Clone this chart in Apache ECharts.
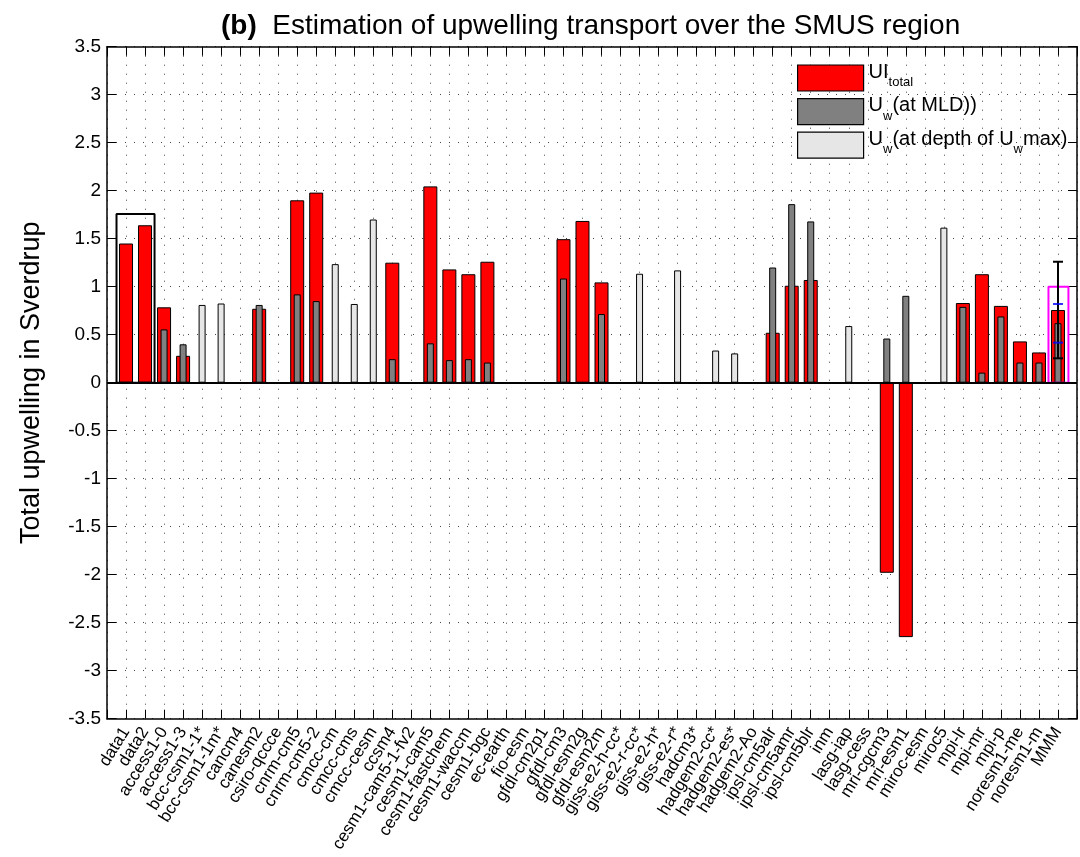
<!DOCTYPE html>
<html><head><meta charset="utf-8">
<script src="https://cdn.jsdelivr.net/npm/echarts@6/dist/echarts.min.js"></script>
<style>html,body{margin:0;padding:0;background:#fff}#c{width:1080px;height:857px}</style>
</head><body><div id="c"></div>
<script>
const categories = ['data1','data2','access1-0','access1-3','bcc-csm1-1*','bcc-csm1-1m*','cancm4','canesm2','csiro-qccce','cnrm-cm5','cnrm-cm5-2','cmcc-cm','cmcc-cms','cmcc-cesm','ccsm4','cesm1-cam5-1-fv2','cesm1-cam5','cesm1-fastchem','cesm1-waccm','cesm1-bgc','ec-earth','fio-esm','gfdl-cm2p1','gfdl-cm3','gfdl-esm2g','gfdl-esm2m','giss-e2-h-cc*','giss-e2-r-cc*','giss-e2-h*','giss-e2-r*','hadcm3*','hadgem2-cc*','hadgem2-es*','hadgem2-Ao','ipsl-cm5alr','ipsl-cm5amr','ipsl-cm5blr','inm','lasg-iap','lasg-cess','mri-cgcm3','mri-esm1','miroc-esm','miroc5','mpi-lr','mpi-mr','mpi-p','noresm1-me','noresm1-m','MMM'];
const uiTotal = [1.45,1.64,0.785,0.28,0,0,0,0.77,0,1.90,1.98,0,0,0,1.25,0,2.045,1.18,1.13,1.26,0,0,0,1.495,1.685,1.045,0,0,0,0,0,0,0,0,0.52,1.01,1.07,0,0,0,-1.98,-2.65,0,0,0.83,1.13,0.80,0.43,0.315,0.757];
const uwMld = [0,0,0.555,0.40,0,0,0,0.81,0,0.92,0.85,0,0,0,0.245,0,0.41,0.235,0.245,0.21,0,0,0,1.085,0,0.715,0,0,0,0,0,0,0,0,1.20,1.86,1.68,0,0,0,0.46,0.905,0,0,0.79,0.105,0.69,0.21,0.21,0.62];
const uwMax = [0,0,0,0,0.81,0.825,0,0,0,0,0,1.235,0.82,1.70,0,0,0,0,0,0,0,0,0,0,0,0,0,1.135,0,1.17,0,0.335,0.305,0,0,0,0,0,0.59,0,0,0,0,1.615,0,0,0,0,0,0];
const mmmErr = [50, 0.254, 1.26];
const mmmInner = [0.82, 0.417];
const obsBox = [[0.5,0],[0.5,1.757],[2.5,1.757],[2.5,0],[0.5,0]];
const mmmBox = [[49.5,0],[49.5,1.0],[50.55,1.0],[50.55,0],[49.5,0]];
const seriesNames = ['UI_total','U_w(at MLD))','U_w(at depth of U_w max)'];
const legendRich = {
  'UI_total': '{m|UI}{s|total}',
  'U_w(at MLD))': '{m|U}{s|w}{m|(at MLD))}',
  'U_w(at depth of U_w max)': '{m|U}{s|w}{m|(at depth of U}{s|w}{m|max)}'
};

const FONT = '"Liberation Sans", Arial, Helvetica, sans-serif';
const dotted = {color:'#444', type:[1,8], width:1};
const xBase = {type:'value', min:0, max:51, interval:1};
const axisLineStyle = {show:true, onZero:false, lineStyle:{color:'#000', width:1.5}};
const tickStyle = {show:true, inside:true, length:9, lineStyle:{color:'#000', width:1}};
const toXY = arr => arr.map((v,i)=>[i+1, v]);
const edge = {borderColor:'#000', borderWidth:1};

const chart = echarts.init(document.getElementById('c'));
chart.setOption({
  animation:false,
  backgroundColor:'#fff',
  textStyle:{fontFamily:FONT},
  title:{
    text:'{b|(b)}  Estimation of upwelling transport over the SMUS region',
    left:216, top:7,
    textStyle:{fontSize:28, fontWeight:'normal', color:'#000', fontFamily:FONT,
      rich:{b:{fontSize:28, fontWeight:'bold', color:'#000', fontFamily:FONT}}}
  },
  legend:{
    orient:'vertical', left:792, top:57, itemWidth:66, itemHeight:26, itemGap:4,
    icon:'rect', selectedMode:false, data:seriesNames,
    itemStyle:{borderColor:'#000', borderWidth:1.2},
    formatter:n=>legendRich[n],
    textStyle:{color:'#000', fontFamily:FONT, fontSize:20,
      rich:{
        m:{fontSize:20, lineHeight:32, verticalAlign:'top', color:'#000', fontFamily:FONT},
        s:{fontSize:13, padding:[14,0,0,0], verticalAlign:'top', color:'#000', fontFamily:FONT}
      }}
  },
  grid:{left:107, right:3, top:46.7, bottom:138.3},
  xAxis:[
    Object.assign({}, xBase, {position:'bottom', axisLine:axisLineStyle, axisTick:tickStyle,
      axisLabel:{rotate:58, margin:10, fontSize:17, color:'#000', fontFamily:FONT,
        formatter:v=>categories[v-1]||''},
      splitLine:{show:true, lineStyle:dotted}}),
    Object.assign({}, xBase, {position:'top', axisLine:axisLineStyle, axisTick:tickStyle,
      axisLabel:{show:false}, splitLine:{show:false}}),
    Object.assign({}, xBase, {show:false}),
    Object.assign({}, xBase, {show:false})
  ],
  yAxis:[
    {type:'value', min:-3.5, max:3.5, interval:0.5, position:'left',
      name:'Total upwelling in Sverdrup', nameLocation:'middle', nameGap:62,
      nameTextStyle:{fontSize:27, color:'#000', fontFamily:FONT},
      axisLine:axisLineStyle, axisTick:tickStyle,
      axisLabel:{fontSize:19, color:'#000', margin:6, fontFamily:FONT},
      splitLine:{show:true, lineStyle:dotted}},
    {type:'value', min:-3.5, max:3.5, interval:0.5, position:'right',
      axisLine:axisLineStyle, axisTick:tickStyle, axisLabel:{show:false}, splitLine:{show:false}}
  ],
  series:[
    {name:seriesNames[0], type:'bar', xAxisIndex:0, yAxisIndex:0, data:toXY(uiTotal), barWidth:14,
      itemStyle:Object.assign({color:'#ff0000'}, edge), z:2,
      markLine:{silent:true, symbol:'none', label:{show:false},
        lineStyle:{color:'#000', width:2, type:'solid'}, data:[{yAxis:0}]}},
    {name:seriesNames[1], type:'bar', xAxisIndex:2, yAxisIndex:0, data:toXY(uwMld), barWidth:7,
      itemStyle:Object.assign({color:'#808080'}, edge), z:3},
    {name:seriesNames[2], type:'bar', xAxisIndex:3, yAxisIndex:0, data:toXY(uwMax), barWidth:7,
      itemStyle:Object.assign({color:'#e6e6e6'}, edge), z:3},
    {type:'line', xAxisIndex:0, yAxisIndex:0, data:obsBox, symbol:'none', silent:true,
      lineStyle:{color:'#000', width:2}, z:4},
    {type:'line', xAxisIndex:0, yAxisIndex:0, data:mmmBox, symbol:'none', silent:true,
      lineStyle:{color:'#ff00ff', width:2}, z:4},
    {type:'custom', xAxisIndex:0, yAxisIndex:0, data:[mmmErr], encode:{x:0, y:[1,2]}, z:6, silent:true,
      renderItem:(params, api)=>{
        const x = api.value(0);
        const lo = api.coord([x, api.value(1)]);
        const hi = api.coord([x, api.value(2)]);
        const w = 5;
        const st = {stroke:'#000', lineWidth:2};
        return {type:'group', children:[
          {type:'line', shape:{x1:lo[0], y1:lo[1], x2:hi[0], y2:hi[1]}, style:st},
          {type:'line', shape:{x1:lo[0]-w, y1:lo[1], x2:lo[0]+w, y2:lo[1]}, style:st},
          {type:'line', shape:{x1:hi[0]-w, y1:hi[1], x2:hi[0]+w, y2:hi[1]}, style:st}
        ]};
      }},
    {type:'scatter', xAxisIndex:0, yAxisIndex:0, data:mmmInner.map(v=>[50, v]), symbol:'rect',
      symbolSize:[10,2], itemStyle:{color:'#0000ff'}, z:7, silent:true}
  ]
});
</script></body></html>
